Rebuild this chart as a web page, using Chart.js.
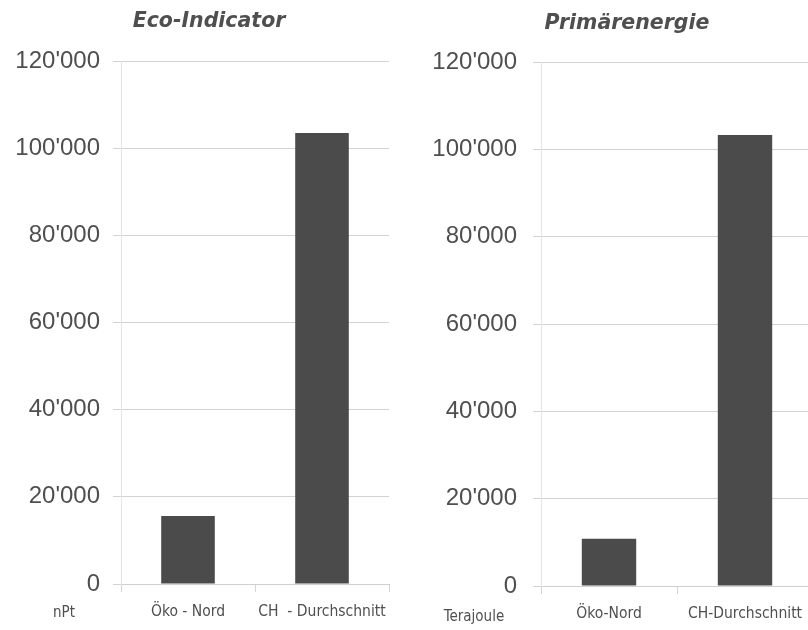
<!DOCTYPE html>
<html>
<head>
<meta charset="utf-8">
<script src="https://cdn.jsdelivr.net/npm/chart.js@4"></script>
<style>
  html, body { margin: 0; padding: 0; background: #fff; overflow: hidden; }
  body { width: 808px; height: 630px; position: relative; }
  .panel { position: absolute; top: 0; height: 630px; }
  #eco { left: 0; width: 404px; }
  #energy { left: 404px; width: 420px; }
</style>
</head>
<body>
<div class="panel" id="eco"><canvas id="ecoChart"></canvas></div>
<div class="panel" id="energy"><canvas id="energyChart"></canvas></div>
<script>
// Eco-Indicator (nPt) und Primärenergie (TJ): Öko-Nord vs. CH-Durchschnitt
const ecoCategories = ['Öko - Nord', 'CH  - Durchschnitt'];
const ecoValues = [15600, 103500];

const energyCategories = ['Öko-Nord', 'CH-Durchschnitt'];
const energyValues = [10800, 103300];

const yMin = 0;
const yMax = 120000;
const yStep = 20000;

const INK = '#4f4f4f';
const BAR = '#4b4b4b';
const NARROW = "'DejaVu Sans Condensed', 'Liberation Sans Narrow', sans-serif";

// 120000 -> 120'000
const fmtCH = (v) => String(v).replace(/\B(?=(\d{3})+(?!\d))/g, "'");

// Titel oben + Einheit links unter der y-Achse
const panelText = {
  id: 'panelText',
  afterDraw(chart, args, opts) {
    const { ctx, chartArea, scales } = chart;
    ctx.save();
    ctx.fillStyle = INK;
    ctx.textAlign = 'center';
    ctx.textBaseline = 'middle';
    ctx.font = 'italic bold 20.5px "DejaVu Sans"';
    ctx.fillText(opts.title, (chartArea.left + chartArea.right) / 2 + opts.titleDx, opts.titleY);
    ctx.font = '15px ' + NARROW;
    ctx.fillText(opts.unit, scales.y.right - opts.unitDx, scales.x.top + opts.unitDy);
    ctx.restore();
  },
};

function makeChart(id, labels, values, p) {
  return new Chart(document.getElementById(id), {
    type: 'bar',
    data: {
      labels,
      datasets: [{
        data: values,
        backgroundColor: BAR,
        borderWidth: 0,
        categoryPercentage: 0.8,
        barPercentage: 0.5,
      }],
    },
    options: {
      responsive: true, maintainAspectRatio: false,
      animation: false,
      layout: { padding: { top: p.top, right: p.right, bottom: p.bottom, left: 0 } },
      plugins: {
        legend: { display: false },
        tooltip: { enabled: false },
        panelText: p.text,
      },
      scales: {
        x: {
          // Beschriftungen dürfen über den Rand ragen, Plotbreite bleibt fix
          afterFit: (s) => { s.height = 40; s.paddingLeft = 0; s.paddingRight = 0; },
          grid: { drawOnChartArea: false, drawTicks: true, tickLength: 8, color: '#d4d4d4', offset: true },
          border: { color: '#cfcfcf' },
          ticks: {
            color: INK, padding: 11,
            autoSkip: false, maxRotation: 0, minRotation: 0,
            font: { family: NARROW, size: 15.5 },
          },
        },
        y: {
          min: yMin, max: yMax,
          afterFit: (s) => { s.width = p.axisWidth; },
          grid: { color: '#d2d2d2', tickLength: 8 },
          border: { color: '#e4e4e4' },
          ticks: {
            stepSize: yStep,
            color: INK,
            padding: p.tickPad,
            font: { family: "'Liberation Sans', Arial, sans-serif", size: 24 },
            callback: (v) => fmtCH(v),
          },
        },
      },
    },
    plugins: [panelText],
  });
}

makeChart('ecoChart', ecoCategories, ecoValues, {
  top: 61, right: 15, bottom: 6, axisWidth: 121, tickPad: 13,
  text: { title: 'Eco-Indicator', titleDx: -46, titleY: 22, unit: 'nPt', unitDx: 57, unitDy: 29 },
});

makeChart('energyChart', energyCategories, energyValues, {
  top: 62, right: 11, bottom: 4, axisWidth: 137, tickPad: 16,
  text: { title: 'Primärenergie', titleDx: -50, titleY: 24, unit: 'Terajoule', unitDx: 67, unitDy: 31 },
});
</script>
</body>
</html>
